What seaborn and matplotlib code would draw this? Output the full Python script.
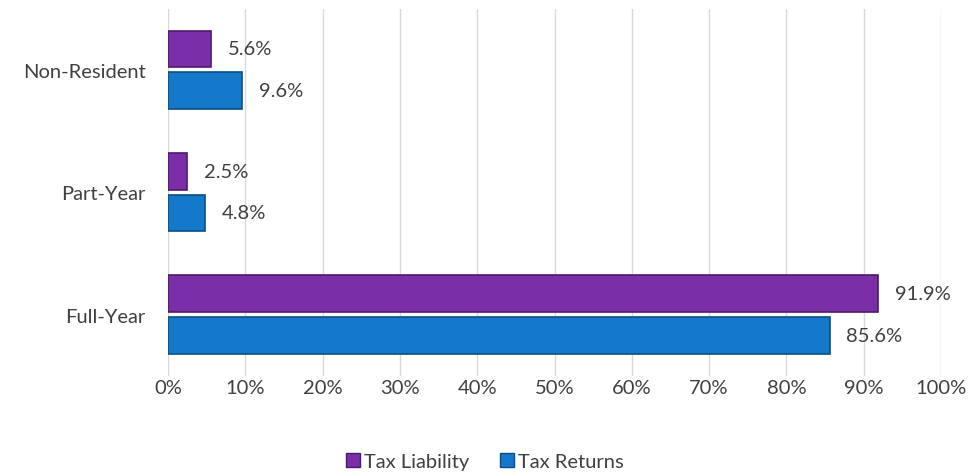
import pandas as pd
import matplotlib.pyplot as plt
import seaborn as sns
from matplotlib.ticker import PercentFormatter

# Data
categories = ['Non-Resident', 'Part-Year', 'Full-Year']
tax_liability = [5.6, 2.5, 91.9]
tax_returns = [9.6, 4.8, 85.6]
series = ['Tax Liability', 'Tax Returns']
colors = ['#7A2FA6', '#1479C9']
edges = ['#4E1A6E', '#0B4F86']

df = pd.DataFrame({
    'category': categories * 2,
    'value': tax_liability + tax_returns,
    'series': [series[0]] * 3 + [series[1]] * 3,
})

sns.set_style('white')
plt.rcParams['font.family'] = ['Lato', 'DejaVu Sans']
txt = '#404040'
fs = 14.5

fig = plt.figure(figsize=(9.7, 4.77), dpi=100)
ax = fig.add_axes([0.1732, 0.21, 0.7969, 0.77])

sns.barplot(data=df, x='value', y='category', hue='series', order=categories,
            hue_order=series, palette=colors, saturation=1, orient='h',
            width=0.68, gap=0.12, ax=ax, legend=False)

# edge shading per series
for cont, ec in zip(ax.containers, edges):
    for bar in cont:
        bar.set_edgecolor(ec)
        bar.set_linewidth(1.2)
    ax.bar_label(cont, labels=[f'{v:.1f}%' for v in cont.datavalues],
                 padding=12, color=txt, fontsize=fs)

ax.set_xlim(0, 100)
ax.set_ylim(2.5, -0.5)
ax.xaxis.set_major_locator(plt.MultipleLocator(10))
ax.xaxis.set_major_formatter(PercentFormatter(decimals=0))
ax.grid(axis='x', color='#d9d9d9', linewidth=1)
ax.set_axisbelow(True)
for s in ax.spines.values():
    s.set_visible(False)
ax.tick_params(axis='both', length=0, labelsize=fs, labelcolor=txt)
ax.tick_params(axis='x', pad=2)
ax.tick_params(axis='y', pad=16)
ax.set_xlabel('')
ax.set_ylabel('')

handles = [plt.Rectangle((0, 0), 1, 1, facecolor=c, edgecolor=e)
           for c, e in zip(colors, edges)]
fig.legend(handles, series, loc='center', bbox_to_anchor=(0.5, 0.03), ncol=2,
           frameon=False, fontsize=fs, labelcolor=txt, handlelength=0.7,
           handleheight=0.7, handletextpad=0.2, columnspacing=1.5)

fig.savefig('out.png', dpi=100)
